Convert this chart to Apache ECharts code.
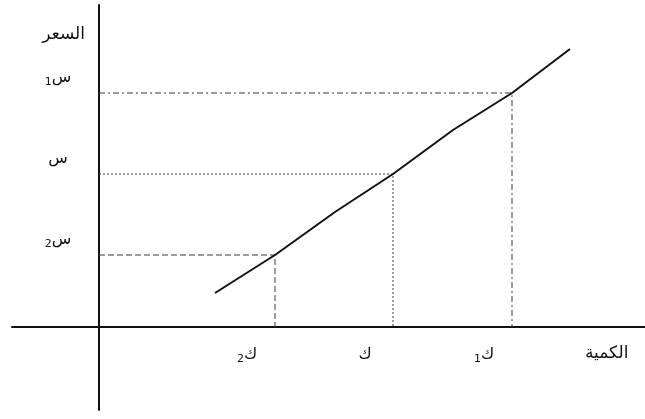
<!DOCTYPE html>
<html>
<head>
<meta charset="utf-8">
<script src="https://cdn.jsdelivr.net/npm/echarts@6/dist/echarts.min.js"></script>
<style>
  html, body { margin: 0; padding: 0; background: #fff; }
  #chart { width: 645px; height: 419px; }
</style>
</head>
<body>
<div id="chart"></div>
<script>
// supply curve (quantity, price), in the diagram's own units
const supplyQ = [116, 176, 236, 294, 354, 413, 471];
const supplyP = [34, 72, 115, 153, 197, 234, 278];

// equilibrium levels: k2, k, k1 / s2, s, s1
const qLevels = [176, 294, 413];
const pLevels = [72, 153, 234];
const qLabels = ['{s|2}{b|ك}', '{b|ك}', '{s|1}{b|ك}'];
const pLabels = ['{s|2}{b|س}', '{b|س}', '{s|1}{b|س}'];
const guideTypes = [[6, 3], [2, 2], [6, 3, 2, 3]];

const axisColor = '#111';
const guideColor = '#3a3a3a';
const textColor = '#111';
const font = 'DejaVu Sans';

const richText = {
  b: { fontSize: 16, fontFamily: font, color: textColor, lineHeight: 20 },
  s: { fontSize: 11, fontFamily: font, color: textColor, lineHeight: 20, verticalAlign: 'bottom', padding: [8, 0, 0, 0] }
};

const chart = echarts.init(document.getElementById('chart'));

const guideSeries = qLevels.map((q, i) => ({
  type: 'line',
  data: [[0, pLevels[i]], [q, pLevels[i]], [q, 0]],
  symbol: 'none',
  silent: true,
  lineStyle: { color: guideColor, width: 1, type: guideTypes[i] },
  z: 1
}));

chart.setOption({
  animation: false,
  backgroundColor: '#fff',
  grid: { left: 12, right: 0, top: 5, bottom: 9, containLabel: false, outerBoundsMode: 'none' },
  xAxis: {
    type: 'value',
    min: -87,
    max: 546,
    name: 'الكمية',
    nameLocation: 'end',
    nameGap: -60,
    nameTextStyle: { fontFamily: font, fontSize: 17, color: textColor, align: 'left', verticalAlign: 'top', padding: [18, 0, 0, 0] },
    axisLine: { onZero: true, lineStyle: { color: axisColor, width: 2 } },
    axisTick: { show: false },
    splitLine: { show: false },
    axisLabel: {
      customValues: qLevels,
      formatter: (v) => qLabels[qLevels.indexOf(v)],
      rich: richText,
      margin: -65,
      padding: [0, 56, 0, 0]
    }
  },
  yAxis: {
    type: 'value',
    min: -83,
    max: 322,
    name: 'السعر',
    nameLocation: 'end',
    nameGap: -38,
    nameTextStyle: { fontFamily: font, fontSize: 17, color: textColor, align: 'right', padding: [0, 14, 0, 0] },
    axisLine: { onZero: true, lineStyle: { color: axisColor, width: 2 } },
    axisTick: { show: false },
    splitLine: { show: false },
    axisLabel: {
      customValues: pLevels,
      formatter: (v) => pLabels[pLevels.indexOf(v)],
      rich: richText,
      align: 'center',
      margin: -46,
      padding: [0, 0, 30, 0]
    }
  },
  series: guideSeries.concat([{
    type: 'line',
    data: supplyQ.map((q, i) => [q, supplyP[i]]),
    symbol: 'none',
    silent: true,
    lineStyle: { color: '#111', width: 2 },
    z: 3
  }])
});
</script>
</body>
</html>
